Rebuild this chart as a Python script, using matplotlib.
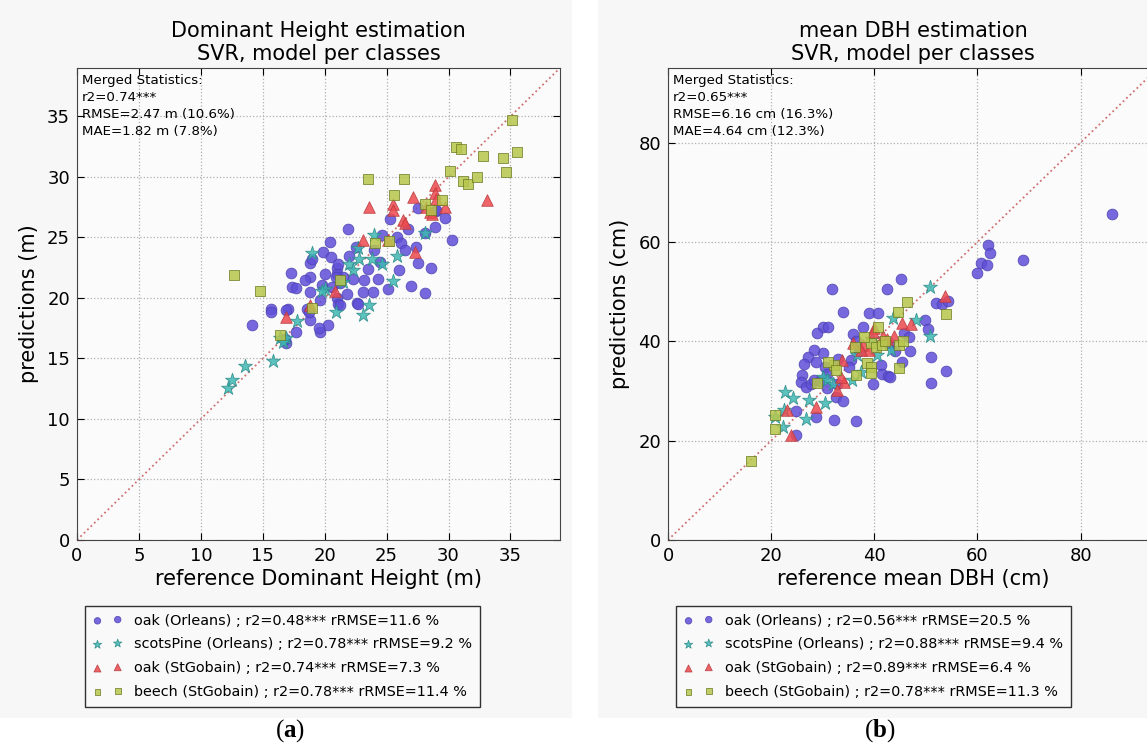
import matplotlib
matplotlib.use("Agg")
from matplotlib import pyplot as plt
from matplotlib.patches import Rectangle

plt.rcParams['font.family'] = ['DejaVu Sans']
plt.rcParams['mathtext.fontset'] = 'custom'
plt.rcParams['mathtext.rm'] = 'Liberation Serif'
plt.rcParams['mathtext.bf'] = 'Liberation Serif:bold'

# ---- panel (a): dominant height ----
h_oak_orl_x = [21.9, 27.5, 29.0, 29.7, 28.9, 30.3, 25.3, 26.7, 28.1, 24.6, 25.8, 26.2, 20.4, 19.9, 20.5,
               18.8, 21.0, 21.0, 21.1, 17.3, 18.8, 18.4, 19.8, 20.6, 21.5, 22.3, 23.2, 24.3, 25.1, 26.0,
               27.5, 28.6, 28.1, 17.4, 17.7, 18.8, 23.1, 22.6, 15.7, 17.0, 18.6, 21.0, 19.6, 14.1, 15.7,
               16.9, 18.8, 17.7, 16.9, 19.6, 20.3, 21.1, 22.7, 21.2, 23.9, 18.7, 19.5, 21.2, 16.8, 20.0,
               22.0, 23.5, 24.5, 26.5, 27.0, 22.5, 19.0, 21.8, 20.9, 24.0, 27.4, 29.0]
h_oak_orl_y = [25.7, 27.4, 27.2, 26.6, 25.9, 24.8, 26.5, 25.7, 25.4, 25.2, 25.0, 24.5, 24.6, 23.8, 23.4,
               22.9, 22.5, 22.0, 22.8, 22.1, 21.7, 21.5, 21.1, 20.9, 21.7, 21.6, 21.5, 21.6, 20.7, 22.3,
               22.9, 22.5, 20.4, 20.9, 20.8, 20.5, 20.5, 19.6, 19.1, 19.1, 19.1, 20.0, 19.8, 17.8, 18.8,
               19.0, 18.2, 17.2, 16.3, 17.2, 17.8, 19.5, 19.5, 21.2, 20.5, 18.8, 17.5, 19.4, 16.6, 22.0,
               23.5, 22.4, 23.0, 24.0, 21.0, 24.2, 23.2, 20.3, 21.7, 24.0, 24.2, 27.3]
h_pine_x = [12.2, 12.5, 13.6, 15.8, 16.4, 16.9, 17.8, 20.9, 23.1, 23.6, 19.0, 20.0, 21.5, 22.0, 22.7,
            22.8, 23.8, 24.6, 24.0, 25.5, 25.8, 19.8, 28.1, 16.6, 22.3]
h_pine_y = [12.6, 13.2, 14.4, 14.8, 16.7, 16.7, 18.1, 18.8, 18.6, 19.4, 23.7, 20.7, 21.3, 22.8, 24.1,
            23.2, 23.2, 22.8, 25.2, 21.4, 23.5, 20.6, 25.4, 16.4, 22.3]
h_oak_stg_x = [28.9, 28.9, 29.0, 27.1, 23.6, 25.5, 25.5, 33.1, 29.7, 28.5, 28.7, 26.3, 26.5, 27.3, 25.1,
               23.1, 16.9, 20.8, 18.8, 28.2]
h_oak_stg_y = [29.3, 28.7, 28.2, 28.3, 27.5, 27.8, 27.3, 28.1, 27.5, 27.1, 26.9, 26.4, 26.2, 23.8, 24.8,
               24.8, 18.4, 20.6, 19.4, 27.5]
h_beech_x = [35.1, 30.6, 31.0, 32.8, 34.4, 35.5, 34.6, 30.1, 31.2, 31.6, 32.3, 23.5, 26.4, 25.6, 28.1,
             29.5, 12.7, 14.8, 24.1, 25.2, 16.4, 19.0, 28.6, 21.2]
h_beech_y = [34.7, 32.5, 32.3, 31.7, 31.6, 32.1, 30.4, 30.5, 29.7, 29.4, 30.0, 29.8, 29.8, 28.5, 27.8,
             28.1, 21.9, 20.6, 24.5, 24.7, 16.9, 19.2, 27.3, 21.5]

# ---- panel (b): mean DBH ----
d_oak_orl_x = [86.0, 62.1, 62.5, 60.7, 61.9, 68.9, 59.9, 45.1, 42.4, 31.7, 51.9, 53.1, 54.3, 34.0, 38.9,
               40.7, 49.8, 50.4, 30.0, 31.1, 28.8, 37.9, 45.7, 46.7, 35.8, 42.8, 46.9, 35.4, 41.2, 41.4,
               42.6, 43.0, 45.3, 51.0, 53.9, 51.0, 39.7, 35.0, 30.5, 30.0, 28.4, 27.2, 26.3, 28.6, 25.9,
               25.7, 26.7, 27.8, 28.4, 30.9, 30.9, 32.7, 32.5, 33.9, 24.9, 28.6, 32.1, 36.4, 24.9, 37.0,
               33.0, 29.5, 36.5, 44.0]
d_oak_orl_y = [65.7, 59.3, 57.7, 55.8, 55.4, 56.3, 53.8, 52.6, 50.6, 50.6, 47.8, 47.6, 48.2, 45.8, 45.6,
               45.6, 44.2, 42.5, 42.9, 42.9, 41.7, 42.9, 41.7, 40.9, 41.5, 39.7, 38.1, 36.3, 35.3, 33.5,
               33.1, 32.9, 35.9, 36.9, 34.1, 31.5, 31.3, 34.9, 34.9, 37.7, 38.3, 36.9, 35.5, 35.9, 33.3,
               31.9, 30.8, 31.3, 32.3, 33.5, 30.6, 31.3, 28.8, 28.0, 26.0, 24.8, 24.2, 24.0, 21.2, 38.0,
               36.5, 32.0, 40.0, 38.0]
d_pine_x = [50.8, 43.6, 48.1, 50.8, 43.2, 40.5, 36.6, 37.4, 35.6, 30.0, 30.9, 31.9, 30.4, 22.6, 24.3,
            27.4, 22.4, 20.8, 26.8, 22.2, 39.5]
d_pine_y = [51.0, 44.6, 44.2, 41.1, 38.3, 37.3, 37.3, 33.9, 32.3, 32.9, 32.3, 31.3, 27.6, 29.8, 28.6,
            28.2, 26.2, 24.8, 24.4, 22.8, 40.5]
d_oak_stg_x = [53.7, 45.3, 47.1, 39.9, 41.6, 43.8, 35.8, 37.9, 38.9, 37.4, 33.7, 34.2, 33.5, 32.7, 28.6,
               23.0, 23.9, 39.7, 42.5]
d_oak_stg_y = [49.2, 43.7, 43.5, 42.7, 41.1, 41.1, 39.7, 39.3, 38.3, 38.3, 36.3, 31.9, 32.9, 30.2, 26.8,
               26.2, 21.2, 41.9, 40.5]
d_beech_x = [46.3, 53.9, 44.6, 40.7, 39.3, 40.3, 41.4, 44.7, 45.6, 36.2, 38.5, 39.3, 39.3, 44.7, 36.4,
             32.1, 31.1, 32.5, 28.8, 20.8, 20.8, 16.1, 38.0, 42.0]
d_beech_y = [48.0, 45.4, 45.8, 42.9, 39.7, 38.9, 39.3, 39.3, 40.0, 38.9, 35.7, 34.9, 33.7, 34.7, 33.3,
             35.3, 35.9, 34.3, 31.6, 25.2, 22.4, 15.9, 40.8, 40.0]

h_labels = ["oak (Orleans) ; r2=0.48*** rRMSE=11.6 %",
            "scotsPine (Orleans) ; r2=0.78*** rRMSE=9.2 %",
            "oak (StGobain) ; r2=0.74*** rRMSE=7.3 %",
            "beech (StGobain) ; r2=0.78*** rRMSE=11.4 %"]
d_labels = ["oak (Orleans) ; r2=0.56*** rRMSE=20.5 %",
            "scotsPine (Orleans) ; r2=0.88*** rRMSE=9.4 %",
            "oak (StGobain) ; r2=0.89*** rRMSE=6.4 %",
            "beech (StGobain) ; r2=0.78*** rRMSE=11.3 %"]
h_stats = "Merged Statistics:\nr2=0.74***\nRMSE=2.47 m (10.6%)\nMAE=1.82 m (7.8%)"
d_stats = "Merged Statistics:\nr2=0.65***\nRMSE=6.16 cm (16.3%)\nMAE=4.64 cm (12.3%)"

styles = [("o", "#6050d8", "#4a40b0", 60),
          ("*", "#3fb8b4", "#2a8a88", 110),
          ("^", "#ec4a4e", "#b83a3e", 70),
          ("s", "#b7c64c", "#6a7a20", 50)]

fig = plt.figure(figsize=(11.47, 7.47), dpi=100)
fig.patch.set_facecolor("white")
# light grey backgrounds of the two panels
fig.patches.append(Rectangle((0, 747 - 718), 572, 718, transform=None, facecolor="#f7f7f7",
                             edgecolor="none", zorder=-10))
fig.patches.append(Rectangle((598, 747 - 718), 549, 718, transform=None, facecolor="#f7f7f7",
                             edgecolor="none", zorder=-10))


def panel(rect, xs, ys, labels, stats, lim, ticks, title, xlabel, ylabel, xlim_max):
    ax = fig.add_axes(rect)
    ax.set_facecolor("#fbfbfb")
    for (mk, fc, ec, s), x, y, lab in zip(styles, xs, ys, labels):
        ax.scatter(x, y, marker=mk, s=s, c=fc, edgecolors=ec, linewidths=0.6, alpha=0.85,
                   label=lab, zorder=3)
    ax.plot([0, lim * 1.3], [0, lim * 1.3], ls=":", color="#d07070", lw=1.3, zorder=2)
    ax.set_xlim(0, xlim_max)
    ax.set_ylim(0, lim)
    ax.set_xticks(ticks)
    ax.set_yticks(ticks)
    ax.grid(True, ls=":", color="#b0b0b0", lw=0.9)
    ax.tick_params(direction="in", top=True, right=True, labelsize=13, length=5, pad=5)
    for sp in ax.spines.values():
        sp.set_color("#444444")
    ax.set_title(title, fontsize=15, linespacing=1.15, pad=6)
    ax.set_xlabel(xlabel, fontsize=15, labelpad=3)
    ax.set_ylabel(ylabel, fontsize=15, labelpad=6)
    ax.text(0.01, 0.988, stats, transform=ax.transAxes, va="top", ha="left", fontsize=9.6,
            linespacing=1.42)
    leg = ax.legend(loc="upper left", bbox_to_anchor=(0.008, -0.13), scatterpoints=2,
                    fontsize=10.4, frameon=True, fancybox=False, borderpad=0.55,
                    labelspacing=0.68, handletextpad=0.8, markerscale=0.6, handlelength=2.0,
                    borderaxespad=0.3)
    leg.get_frame().set_edgecolor("black")
    leg.get_frame().set_facecolor("#fafafa")
    leg.get_frame().set_linewidth(1.0)
    return ax


panel([77 / 1147, 207 / 747, 483 / 1147, 472 / 747],
      [h_oak_orl_x, h_pine_x, h_oak_stg_x, h_beech_x],
      [h_oak_orl_y, h_pine_y, h_oak_stg_y, h_beech_y],
      h_labels, h_stats, 39, [0, 5, 10, 15, 20, 25, 30, 35],
      "Dominant Height estimation\nSVR, model per classes",
      "reference Dominant Height (m)", "predictions (m)", 39)

panel([668 / 1147, 207 / 747, 490 / 1147, 472 / 747],
      [d_oak_orl_x, d_pine_x, d_oak_stg_x, d_beech_x],
      [d_oak_orl_y, d_pine_y, d_oak_stg_y, d_beech_y],
      d_labels, d_stats, 95, [0, 20, 40, 60, 80],
      "mean DBH estimation\nSVR, model per classes",
      "reference mean DBH (cm)", "predictions (cm)", 95)

fig.text(290 / 1147, 1 - 731 / 747, r"($\mathbf{a}$)", ha="center", va="center", fontsize=18,
         family="Liberation Serif")
fig.text(880 / 1147, 1 - 731 / 747, r"($\mathbf{b}$)", ha="center", va="center", fontsize=18,
         family="Liberation Serif")

fig.savefig("out.png", dpi=100)
